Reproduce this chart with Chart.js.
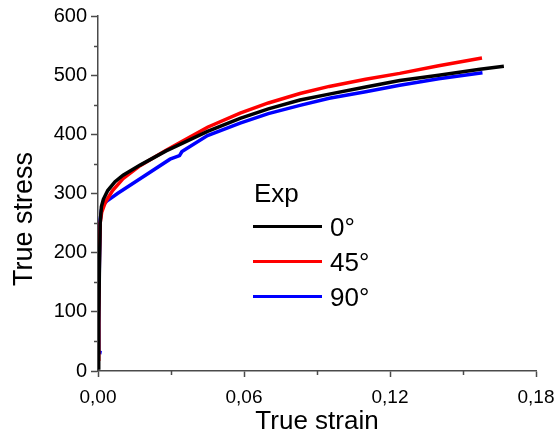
<!DOCTYPE html>
<html>
<head>
<meta charset="utf-8">
<script src="https://cdn.jsdelivr.net/npm/chart.js@4/dist/chart.umd.min.js"></script>
<style>
  html, body { margin: 0; padding: 0; background: #ffffff; }
  #wrap { width: 555px; height: 437px; }
</style>
</head>
<body>
<div id="wrap"><canvas id="c" width="555" height="437"></canvas></div>
<script>
// ---- Data ----
const seriesLabels = ['0°', '45°', '90°'];
const legendTitle = 'Exp';

const strain0  = [0, 0.0003, 0.0006, 0.0009, 0.0014, 0.0022, 0.004, 0.007, 0.0103, 0.0173, 0.028, 0.0337, 0.045, 0.0584, 0.07, 0.083, 0.095, 0.11, 0.124, 0.14, 0.157, 0.1668];
const stress0  = [5, 80, 180, 250, 278, 290, 305, 320, 331, 348, 372, 383, 405, 427, 443, 458, 468, 480, 491, 500, 510, 515];

const strain45 = [0, 0.0003, 0.0006, 0.0009, 0.0015, 0.003, 0.006, 0.0103, 0.0173, 0.028, 0.0337, 0.045, 0.0584, 0.07, 0.083, 0.095, 0.11, 0.124, 0.14, 0.1578];
const stress45 = [20, 100, 200, 250, 268, 285, 305, 325, 347, 373, 386, 412, 436, 453, 469, 481, 493, 503, 516, 529];

const strain90 = [0.0015, 0.0, 0.0003, 0.0006, 0.0009, 0.0014, 0.0025, 0.0036, 0.008, 0.0173, 0.0296, 0.0335, 0.0345, 0.045, 0.0584, 0.07, 0.083, 0.095, 0.11, 0.124, 0.14, 0.158];
const stress90 = [31, 32, 100, 190, 255, 272, 282, 287, 300, 325, 358, 364, 371, 398, 419, 435, 449, 461, 472, 483, 494, 504];

const xTickLabels = ['0,00', '0,06', '0,12', '0,18'];
const yTickLabels = ['0', '100', '200', '300', '400', '500', '600'];

const xTitle = 'True strain';
const yTitle = 'True stress';

// ---- Build datasets ----
function pts(xs, ys) { return xs.map((x, i) => ({ x: x, y: ys[i] })); }
const colors = ['#000000', '#ff0000', '#0000ff'];
const datasets = [
  { label: seriesLabels[0], data: pts(strain0, stress0) },
  { label: seriesLabels[1], data: pts(strain45, stress45) },
  { label: seriesLabels[2], data: pts(strain90, stress90) }
].map((d, i) => Object.assign(d, {
  borderColor: colors[i], backgroundColor: colors[i], borderWidth: 3.5,
  pointRadius: 0, showLine: true, tension: 0, fill: false
}));

const FONT = "'Liberation Sans', Arial, sans-serif";
const AXIS_COLOR = '#4a4a4a';

function isMajorX(v) { return Math.abs(v / 0.06 - Math.round(v / 0.06)) < 1e-6; }
function isMajorY(v) { return Math.abs(v / 100 - Math.round(v / 100)) < 1e-6; }

const extras = {
  id: 'extras',
  afterDraw(chart) {
    const ctx = chart.ctx;
    const ca = chart.chartArea;
    const xs = chart.scales.x, ys = chart.scales.y;
    ctx.save();
    // minor ticks
    ctx.strokeStyle = AXIS_COLOR;
    ctx.lineWidth = 1.5;
    xs.ticks.forEach(t => {
      if (!isMajorX(t.value)) {
        const px = Math.round(xs.getPixelForValue(t.value)) + 0.5;
        ctx.beginPath(); ctx.moveTo(px, ca.bottom); ctx.lineTo(px, ca.bottom + 4); ctx.stroke();
      }
    });
    ys.ticks.forEach(t => {
      if (!isMajorY(t.value)) {
        const py = Math.round(ys.getPixelForValue(t.value)) + 0.5;
        ctx.beginPath(); ctx.moveTo(ca.left, py); ctx.lineTo(ca.left - 4, py); ctx.stroke();
      }
    });
    // y title
    ctx.fillStyle = '#000';
    ctx.font = '27px ' + FONT;
    ctx.textAlign = 'center';
    ctx.textBaseline = 'middle';
    ctx.translate(25, 219);
    ctx.rotate(-Math.PI / 2);
    ctx.fillText(yTitle, 0, 0);
    ctx.restore();

    // legend
    ctx.save();
    ctx.fillStyle = '#000';
    ctx.font = '26px ' + FONT;
    ctx.textAlign = 'left';
    ctx.textBaseline = 'alphabetic';
    ctx.fillText(legendTitle, 254, 202);
    chart.data.datasets.forEach((ds, i) => {
      const ly = 226.5 + i * 35;
      ctx.strokeStyle = ds.borderColor;
      ctx.lineWidth = 3;
      ctx.beginPath(); ctx.moveTo(253, ly); ctx.lineTo(322, ly); ctx.stroke();
      ctx.fillStyle = '#000';
      ctx.fillText(ds.label, 330, ly + 9);
    });
    ctx.restore();
  }
};

new Chart(document.getElementById('c'), {
  type: 'scatter',
  data: { datasets: datasets },
  options: {
    responsive: false,
    animation: false,
    devicePixelRatio: 1,
    layout: { padding: { left: 0, right: 19, top: 16, bottom: 0 } },
    plugins: { legend: { display: false }, tooltip: { enabled: false } },
    scales: {
      x: {
        type: 'linear', min: 0, max: 0.18,
        afterFit(s) { s.height = 66; s.paddingLeft = 0; s.paddingRight = 0; },
        border: { display: true, color: AXIS_COLOR, width: 1.5 },
        grid: {
          drawOnChartArea: false, tickLength: 6, tickWidth: 1.5,
          tickColor: c => (c.tick && isMajorX(c.tick.value)) ? AXIS_COLOR : 'rgba(0,0,0,0)'
        },
        ticks: {
          stepSize: 0.03, color: '#000', padding: 9, maxRotation: 0, autoSkip: false,
          font: { family: FONT, size: 19 },
          callback: v => isMajorX(v) ? xTickLabels[Math.round(v / 0.06)] : ''
        },
        title: {
          display: true, text: xTitle, color: '#000',
          font: { family: FONT, size: 26 }, padding: { top: 0, bottom: 0 }
        }
      },
      y: {
        type: 'linear', min: 0, max: 600,
        afterFit(s) { s.width = 98; s.paddingTop = 0; s.paddingBottom = 0; },
        border: { display: true, color: AXIS_COLOR, width: 1.5 },
        grid: {
          drawOnChartArea: false, tickLength: 7, tickWidth: 1.5,
          tickColor: c => (c.tick && isMajorY(c.tick.value)) ? AXIS_COLOR : 'rgba(0,0,0,0)'
        },
        ticks: {
          stepSize: 50, color: '#000', padding: 4, autoSkip: false,
          font: { family: FONT, size: 20 },
          callback: v => isMajorY(v) ? yTickLabels[Math.round(v / 100)] : ''
        }
      }
    }
  },
  plugins: [extras]
});
</script>
</body>
</html>
